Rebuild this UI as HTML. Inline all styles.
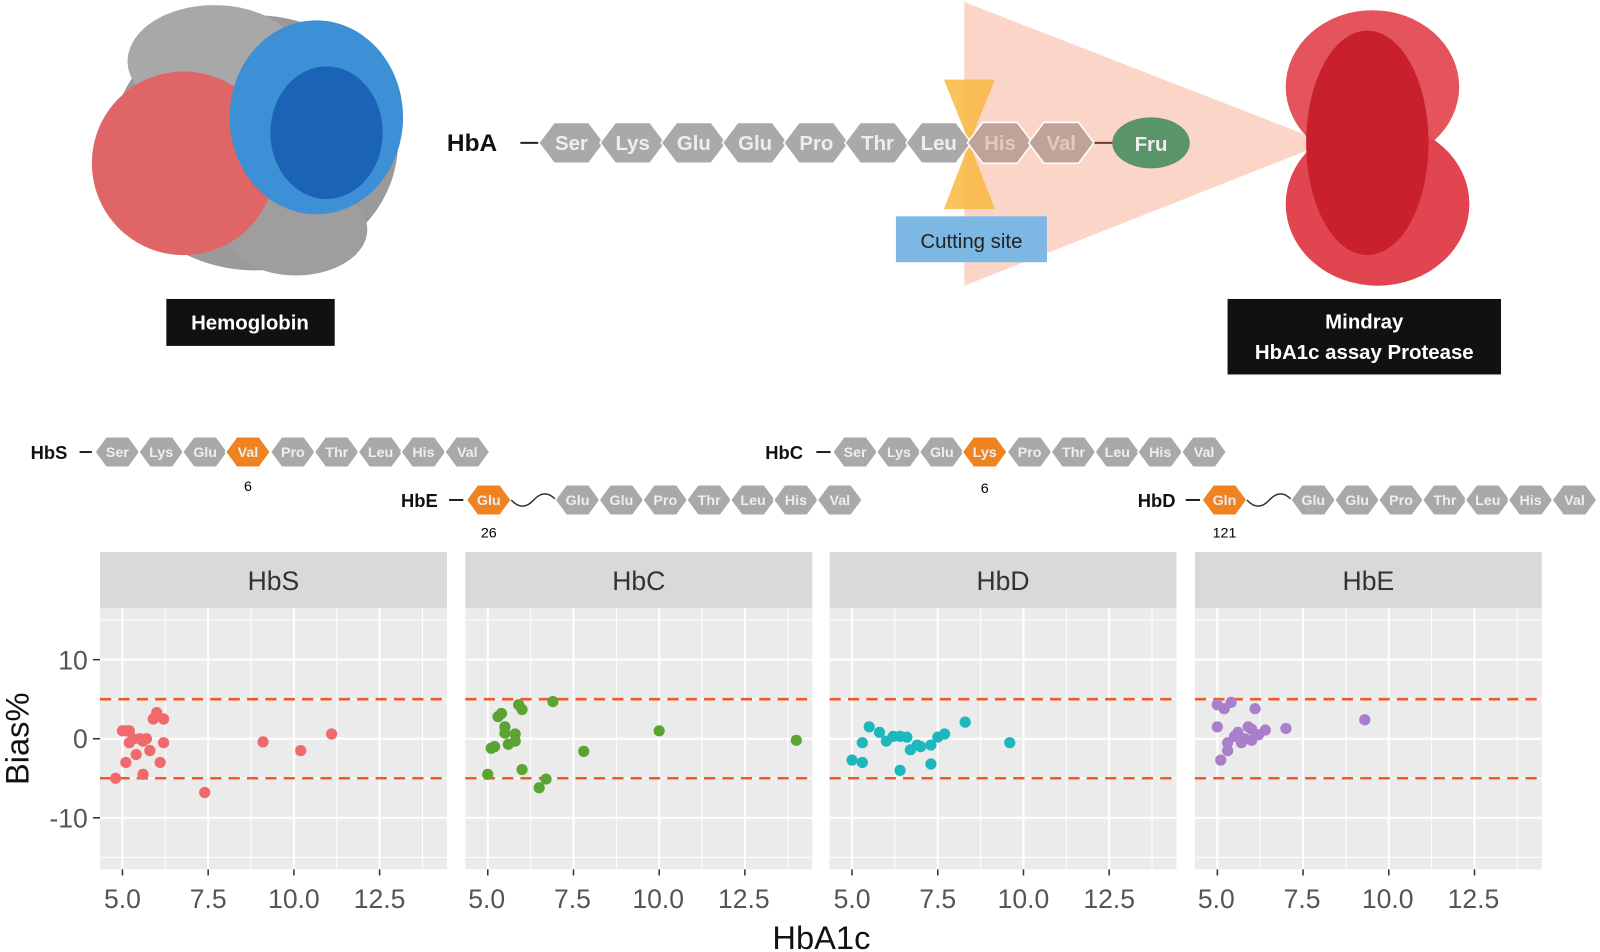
<!DOCTYPE html>
<html><head><meta charset="utf-8"><style>
html,body{margin:0;padding:0;background:#fff;width:1600px;height:952px;overflow:hidden}
svg{display:block}
.hx{fill:#a9a9aa;stroke:#fff;stroke-width:1.5}
.ho{fill:#ef8322;stroke:#fff;stroke-width:1.5}
.ht{font-family:"Liberation Sans",sans-serif;font-weight:bold;fill:#eee;text-anchor:middle}
.s{font-size:14px}
.b{font-size:20px}
.lbl{font-family:"Liberation Sans",sans-serif;font-weight:bold;fill:#111}
.tk{font-family:"Liberation Sans",sans-serif;font-size:26px;fill:#555;text-anchor:middle}
</style></head><body>
<svg width="1600" height="952" viewBox="0 0 1568 933" preserveAspectRatio="none" xmlns="http://www.w3.org/2000/svg">
<defs>
<polygon id="hs" points="-22,0 -11,-15 11,-15 22,0 11,15 -11,15"/>
<polygon id="hb" points="-32,0 -17,-20 17,-20 32,0 17,20 -17,20"/>
</defs>
<ellipse cx="250" cy="140" rx="140" ry="125" fill="#9a9a9a"/>
<ellipse cx="210" cy="60" rx="85" ry="55" fill="#a8a8a8"/>
<ellipse cx="290" cy="225" rx="70" ry="45" fill="#9e9e9e"/>
<ellipse cx="180" cy="160" rx="90" ry="90" fill="#e06566"/>
<ellipse cx="310" cy="115" rx="85" ry="95" fill="#3d8fd6"/>
<ellipse cx="320" cy="130" rx="55" ry="65" fill="#1a63b5"/>
<rect x="163" y="293" width="165" height="46" fill="#111"/>
<text x="245" y="323" class="lbl" font-size="20" style="fill:#fff" text-anchor="middle">Hemoglobin</text>
<polygon points="945,2 1300,140 945,280" fill="#fbd6c8"/>
<polygon points="925,78 975,78 950,140 975,205 925,205 950,140" fill="#f9b941" opacity="0.85"/>
<ellipse cx="1345" cy="85" rx="85" ry="75" fill="#e5545c"/>
<ellipse cx="1350" cy="200" rx="90" ry="80" fill="#e14650"/>
<ellipse cx="1340" cy="140" rx="60" ry="110" fill="#c8202c"/>
<rect x="1203" y="293" width="268" height="74" fill="#111"/>
<text x="1337" y="322" class="lbl" font-size="20" style="fill:#fff" text-anchor="middle">Mindray</text>
<text x="1337" y="352" class="lbl" font-size="20" style="fill:#fff" text-anchor="middle">HbA1c assay Protease</text>
<rect x="878" y="212" width="148" height="45" fill="#7db7e3"/>
<text x="952" y="243" font-family="Liberation Sans,sans-serif" font-size="20" fill="#222" text-anchor="middle">Cutting site</text>
<text x="438" y="148" class="lbl" font-size="24">HbA</text>
<line x1="510" y1="140" x2="528" y2="140" stroke="#222" stroke-width="2"/>
<line x1="1070" y1="140" x2="1092" y2="140" stroke="#6b3a2a" stroke-width="2"/>
<g class="hx"><use href="#hb" x="560" y="140"/><use href="#hb" x="620" y="140"/><use href="#hb" x="680" y="140"/><use href="#hb" x="740" y="140"/><use href="#hb" x="800" y="140"/><use href="#hb" x="860" y="140"/><use href="#hb" x="920" y="140"/></g>
<g style="fill:#bfa39a;stroke:#fff;stroke-width:1.5"><use href="#hb" x="980" y="140"/><use href="#hb" x="1040" y="140"/></g>
<g class="ht b"><text x="560" y="147">Ser</text><text x="620" y="147">Lys</text><text x="680" y="147">Glu</text><text x="740" y="147">Glu</text><text x="800" y="147">Pro</text><text x="860" y="147">Thr</text><text x="920" y="147">Leu</text><text x="980" y="147" style="fill:#e8c8bd">His</text><text x="1040" y="147" style="fill:#e8c8bd">Val</text></g>
<ellipse cx="1128" cy="140" rx="38" ry="25" fill="#5a9469"/>
<text x="1128" y="148" class="ht b">Fru</text>
<text x="30" y="450" class="lbl" font-size="18">HbS</text>
<line x1="78" y1="443" x2="90" y2="443" stroke="#222" stroke-width="2"/>
<g class="hx"><use href="#hs" x="115" y="443"/><use href="#hs" x="158" y="443"/><use href="#hs" x="201" y="443"/><use href="#hs" x="287" y="443"/><use href="#hs" x="330" y="443"/><use href="#hs" x="373" y="443"/><use href="#hs" x="415" y="443"/><use href="#hs" x="458" y="443"/></g>
<use href="#hs" x="243" y="443" class="ho"/>
<g class="ht s"><text x="115" y="448">Ser</text><text x="158" y="448">Lys</text><text x="201" y="448">Glu</text><text x="243" y="448">Val</text><text x="287" y="448">Pro</text><text x="330" y="448">Thr</text><text x="373" y="448">Leu</text><text x="415" y="448">His</text><text x="458" y="448">Val</text></g>
<text x="243" y="481" font-family="Liberation Sans,sans-serif" font-size="14" text-anchor="middle">6</text>
<text x="750" y="450" class="lbl" font-size="18">HbC</text>
<line x1="800" y1="443" x2="814" y2="443" stroke="#222" stroke-width="2"/>
<g class="hx"><use href="#hs" x="838" y="443"/><use href="#hs" x="881" y="443"/><use href="#hs" x="923" y="443"/><use href="#hs" x="1009" y="443"/><use href="#hs" x="1052" y="443"/><use href="#hs" x="1095" y="443"/><use href="#hs" x="1137" y="443"/><use href="#hs" x="1180" y="443"/></g>
<use href="#hs" x="965" y="443" class="ho"/>
<g class="ht s"><text x="838" y="448">Ser</text><text x="881" y="448">Lys</text><text x="923" y="448">Glu</text><text x="965" y="448">Lys</text><text x="1009" y="448">Pro</text><text x="1052" y="448">Thr</text><text x="1095" y="448">Leu</text><text x="1137" y="448">His</text><text x="1180" y="448">Val</text></g>
<text x="965" y="483" font-family="Liberation Sans,sans-serif" font-size="14" text-anchor="middle">6</text>
<text x="393" y="497" class="lbl" font-size="18">HbE</text>
<line x1="440" y1="490" x2="454" y2="490" stroke="#222" stroke-width="2"/>
<use href="#hs" x="479" y="490" class="ho"/>
<path d="M501,490 q11,12 22,0 t22,0" fill="none" stroke="#333" stroke-width="1.5"/>
<g class="hx"><use href="#hs" x="566" y="490"/><use href="#hs" x="609" y="490"/><use href="#hs" x="652" y="490"/><use href="#hs" x="695" y="490"/><use href="#hs" x="738" y="490"/><use href="#hs" x="780" y="490"/><use href="#hs" x="823" y="490"/></g>
<g class="ht s"><text x="479" y="495">Glu</text><text x="566" y="495">Glu</text><text x="609" y="495">Glu</text><text x="652" y="495">Pro</text><text x="695" y="495">Thr</text><text x="738" y="495">Leu</text><text x="780" y="495">His</text><text x="823" y="495">Val</text></g>
<text x="479" y="527" font-family="Liberation Sans,sans-serif" font-size="14" text-anchor="middle">26</text>
<text x="1115" y="497" class="lbl" font-size="18">HbD</text>
<line x1="1162" y1="490" x2="1176" y2="490" stroke="#222" stroke-width="2"/>
<use href="#hs" x="1200" y="490" class="ho"/>
<path d="M1222,490 q11,12 22,0 t22,0" fill="none" stroke="#333" stroke-width="1.5"/>
<g class="hx"><use href="#hs" x="1287" y="490"/><use href="#hs" x="1330" y="490"/><use href="#hs" x="1373" y="490"/><use href="#hs" x="1416" y="490"/><use href="#hs" x="1458" y="490"/><use href="#hs" x="1500" y="490"/><use href="#hs" x="1543" y="490"/></g>
<g class="ht s"><text x="1200" y="495">Gln</text><text x="1287" y="495">Glu</text><text x="1330" y="495">Glu</text><text x="1373" y="495">Pro</text><text x="1416" y="495">Thr</text><text x="1458" y="495">Leu</text><text x="1500" y="495">His</text><text x="1543" y="495">Val</text></g>
<text x="1200" y="527" font-family="Liberation Sans,sans-serif" font-size="14" text-anchor="middle">121</text>
<g id="plot"></g>
<g font-family="Liberation Sans,sans-serif" font-size="26" fill="#333" text-anchor="middle">
<text x="268" y="578">HbS</text><text x="626" y="578">HbC</text><text x="983" y="578">HbD</text><text x="1341" y="578">HbE</text>
</g>
<g font-family="Liberation Sans,sans-serif" font-size="26" fill="#555" text-anchor="end">
<text x="86" y="656">10</text><text x="86" y="733">0</text><text x="86" y="811">-10</text>
</g>
<g class="tk">
<text x="120" y="890">5.0</text><text x="204" y="890">7.5</text><text x="288" y="890">10.0</text><text x="372" y="890">12.5</text>
<text x="477" y="890">5.0</text><text x="561" y="890">7.5</text><text x="645" y="890">10.0</text><text x="729" y="890">12.5</text>
<text x="835" y="890">5.0</text><text x="919" y="890">7.5</text><text x="1003" y="890">10.0</text><text x="1087" y="890">12.5</text>
<text x="1192" y="890">5.0</text><text x="1276" y="890">7.5</text><text x="1360" y="890">10.0</text><text x="1444" y="890">12.5</text>
</g>
<text x="805" y="930" font-family="Liberation Sans,sans-serif" font-size="32" fill="#111" text-anchor="middle">HbA1c</text>
<text transform="translate(28,724) rotate(-90)" font-family="Liberation Sans,sans-serif" font-size="32" fill="#111" text-anchor="middle">Bias%</text>
</svg>
<script>
var NS="http://www.w3.org/2000/svg",g=document.getElementById("plot");
function el(t,a){var e=document.createElementNS(NS,t);for(var k in a)e.setAttribute(k,a[k]);g.appendChild(e);return e;}
var lefts=[98,456,813,1171],cols=["#f0696b","#5ca432","#1cb8be","#a97fcb"];
var data=[
[[4.8,-5],[5.0,1],[5.1,-3],[5.2,1],[5.3,0],[5.4,-2],[5.5,0],[5.6,-4.5],[5.7,0],[5.8,-1.5],[5.9,2.5],[6.0,3.3],[6.1,-3],[6.2,2.5],[6.2,-0.5],[7.4,-6.8],[9.1,-0.4],[10.2,-1.5],[11.1,0.6],[5.2,-0.5],[5.6,-0.3],[5.1,1]],
[[5.0,-4.5],[5.1,-1.2],[5.2,-1],[5.3,2.8],[5.4,3.2],[5.5,1.5],[5.5,0.7],[5.6,-0.7],[5.8,-0.3],[5.8,0.6],[5.9,4.3],[6.0,3.7],[6.0,-3.9],[6.5,-6.2],[6.7,-5.1],[6.9,4.7],[7.8,-1.6],[10.0,1],[14.0,-0.2]],
[[5.0,-2.7],[5.3,-3],[5.3,-0.5],[5.5,1.5],[5.8,0.8],[6.0,-0.3],[6.2,0.3],[6.4,-4],[6.4,0.3],[6.6,0.2],[6.7,-1.4],[6.9,-0.8],[7.0,-1.0],[7.3,-0.8],[7.3,-3.2],[7.5,0.2],[7.7,0.6],[8.3,2.1],[9.6,-0.5]],
[[5.0,4.3],[5.0,1.5],[5.1,-2.7],[5.2,3.8],[5.3,-1.5],[5.3,-0.5],[5.4,4.6],[5.5,0.3],[5.6,0.8],[5.8,0],[5.9,1.5],[6.0,-0.2],[6.1,3.8],[6.0,1.2],[6.2,0.5],[6.4,1.1],[7.0,1.3],[9.3,2.4],[5.7,-0.5]]];
function Y(v){return 724-v*7.75;}
for(var i=0;i<4;i++){
 var L=lefts[i],X=function(v){return L+22+(v-5)*33.6;};
 el("rect",{x:L,y:541,width:340,height:55,fill:"#d9d9d9"});
 el("rect",{x:L,y:596,width:340,height:256,fill:"#ebebeb"});
 [6.25,8.75,11.25,13.75].forEach(function(v){el("line",{x1:X(v),x2:X(v),y1:596,y2:852,stroke:"#fff","stroke-width":1});});
 [15,5,-5,-15].forEach(function(v){el("line",{x1:L,x2:L+340,y1:Y(v),y2:Y(v),stroke:"#fff","stroke-width":1});});
 [5,7.5,10,12.5].forEach(function(v){el("line",{x1:X(v),x2:X(v),y1:596,y2:852,stroke:"#fff","stroke-width":2});
   el("line",{x1:X(v),x2:X(v),y1:852,y2:858,stroke:"#333","stroke-width":1.5});});
 [10,0,-10].forEach(function(v){el("line",{x1:L,x2:L+340,y1:Y(v),y2:Y(v),stroke:"#fff","stroke-width":2});});
 [5,-5].forEach(function(v){el("line",{x1:L,x2:L+340,y1:Y(v),y2:Y(v),stroke:"#f05a28","stroke-width":2.5,"stroke-dasharray":"11 7"});});
 data[i].forEach(function(p){el("circle",{cx:X(p[0]),cy:Y(p[1]),r:5.5,fill:cols[i]});});
}
[10,0,-10].forEach(function(v){el("line",{x1:91,x2:98,y1:Y(v),y2:Y(v),stroke:"#333","stroke-width":1.5});});
</script>
</body></html>
